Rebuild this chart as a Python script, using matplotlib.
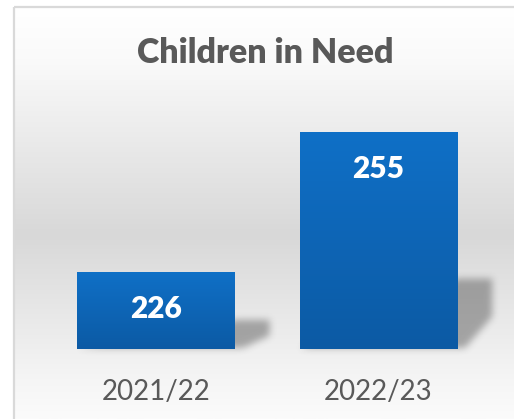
import numpy as np
import matplotlib
matplotlib.use("Agg")
import matplotlib.pyplot as plt
from matplotlib.path import Path
from matplotlib.colors import LinearSegmentedColormap

# ---- data ----
years = ["2021/22", "2022/23"]
children = [226, 255]
y_min, y_max = 210, 260

# ---- figure geometry (pixels) ----
W, H, DPI = 514, 419, 100
TEXT = "#595959"
plt.rcParams["font.family"] = ["Lato", "DejaVu Sans"]

fig = plt.figure(figsize=(W / DPI, H / DPI), dpi=DPI)
fig.patch.set_facecolor("white")

# chart-area backdrop: soft vertical grey gradient with a thin border
bg = fig.add_axes([0, 0, 1, 1], zorder=0)
bg.set_xlim(0, W)
bg.set_ylim(H, 0)
bg.axis("off")
area_left, area_top = 14, 7
stops = [(7, "#ffffff"), (60, "#fafafa"), (235, "#d8d8d8"), (380, "#f5f5f5"), (419, "#fbfbfb")]
span = stops[-1][0] - stops[0][0]
bg_cmap = LinearSegmentedColormap.from_list(
    "backdrop", [((p - stops[0][0]) / span, c) for p, c in stops])
bg.imshow(np.linspace(0, 1, 512).reshape(-1, 1), cmap=bg_cmap, aspect="auto",
          extent=(area_left, W + 1, H, area_top), interpolation="bilinear")
bg.plot([area_left, area_left], [H, area_top], color="#d9d9d9", lw=1.6, solid_capstyle="butt")
bg.plot([area_left, W + 1], [area_top, area_top], color="#d9d9d9", lw=1.6, solid_capstyle="butt")
bg.set_xlim(0, W)
bg.set_ylim(H, 0)

# plot area
px_per_unit = 4.828
ax_l, ax_r, ax_b = 44.75, 489.75, 349
ax_t = ax_b - (y_max - y_min) * px_per_unit
ax = fig.add_axes([ax_l / W, (H - ax_b) / H, (ax_r - ax_l) / W, (ax_b - ax_t) / H], zorder=1)
ax.patch.set_alpha(0)
for s in ax.spines.values():
    s.set_visible(False)

x = np.arange(len(years))
heights = np.array(children) - y_min
bars = ax.bar(x, heights, bottom=y_min, width=0.71, color="none", zorder=3)
ax.set_xlim(-0.5, 1.5)
ax.set_ylim(y_min, y_max)

# soft drop shadow behind each bar (blurred in pixel space)
sx0, sx1 = -0.5, 1.7
sy0, sy1 = y_min - 3, y_max
nx = int((sx1 - sx0) * (ax_r - ax_l) / 2)
ny = int((sy1 - sy0) * px_per_unit)
gx = np.linspace(sx0, sx1, nx)
gy = np.linspace(sy0, sy1, ny)
GX, GY = np.meshgrid(gx, gy)
pts = np.column_stack([GX.ravel(), GY.ravel()])
mask = np.zeros(GX.shape)
unit_x = (ax_r - ax_l) / 2
for b in bars:
    x0, y0 = b.get_x(), b.get_y()
    x1, h = x0 + b.get_width(), b.get_height()
    w = 34 / unit_x
    kh = 0.3 * h + 1
    poly = Path([(x0, y0), (x1, y0), (x1 + 0.2 * w, y0),
                 (x1 + w, y0 + 0.45 * kh), (x1 + w, y0 + kh), (x1, y0 + kh), (x0, y0)])
    mask += poly.contains_points(pts).reshape(GX.shape)
mask = np.clip(mask, 0, 1)


def box_blur(a, r):
    k = np.ones(2 * r + 1) / (2 * r + 1)
    for _ in range(3):
        a = np.apply_along_axis(lambda v: np.convolve(v, k, mode="same"), 0, a)
        a = np.apply_along_axis(lambda v: np.convolve(v, k, mode="same"), 1, a)
    return a


mask = box_blur(mask, 3)
shadow = np.zeros(GX.shape + (4,))
shadow[..., :3] = 0.25
shadow[..., 3] = mask * 0.42
ax.imshow(shadow, origin="lower", extent=(sx0, sx1, sy0, sy1), aspect="auto",
          zorder=2, clip_on=False, interpolation="bilinear")

# blue vertical gradient inside each bar
bar_cmap = LinearSegmentedColormap.from_list("bar", ["#0c5aa4", "#0f70c7"])
for b in bars:
    x0, y0 = b.get_x(), b.get_y()
    im = ax.imshow(np.linspace(0, 1, 256).reshape(-1, 1), cmap=bar_cmap, origin="lower",
                   extent=(x0, x0 + b.get_width(), y0, y0 + b.get_height()),
                   aspect="auto", zorder=3, interpolation="bilinear")
    im.set_clip_path(b)

ax.set_xlim(-0.5, 1.5)
ax.set_ylim(y_min, y_max)

# value labels inside the bar ends
for xi, v in zip(x, children):
    ax.annotate(f"{v}", xy=(xi, v), xytext=(0, -46 * 72 / DPI), textcoords="offset points",
                ha="center", va="baseline", color="white", fontsize=21.5, fontweight="heavy",
                zorder=5)

# category axis
ax.set_yticks([])
ax.set_xticks(x, years)
ax.tick_params(axis="x", length=0, pad=51 * 72 / DPI, labelsize=20, labelcolor=TEXT)
for lab in ax.get_xticklabels():
    lab.set_va("baseline")

fig.text(265.5 / W, 1 - 63 / H, "Children in Need", ha="center", va="baseline",
         fontsize=24.5, fontweight="heavy", color=TEXT)

fig.savefig("out.png", dpi=DPI)
